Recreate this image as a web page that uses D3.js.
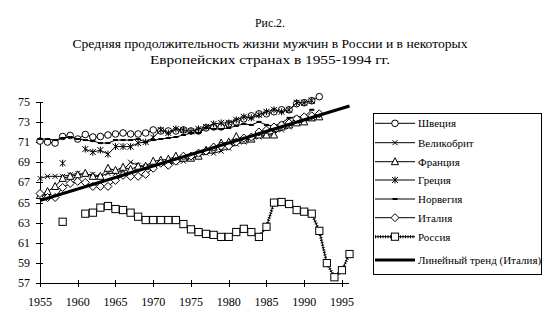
<!DOCTYPE html>
<html>
<head>
<meta charset="utf-8">
<script src="https://cdn.jsdelivr.net/npm/d3@7/dist/d3.min.js"></script>
<style>
  html, body { margin: 0; padding: 0; background: #fff; }
  svg { display: block; }
  text { font-family: "Liberation Serif", "DejaVu Serif", serif; fill: #000; }
</style>
</head>
<body>
<svg id="chart" width="557" height="329"></svg>
<script>
// Male life expectancy, years 1955..1996 (null = no data)
const firstYear = 1955;
const xTicks = [1955, 1960, 1965, 1970, 1975, 1980, 1985, 1990, 1995];
const yTicks = [57, 59, 61, 63, 65, 67, 69, 71, 73, 75];

const sweden = [71.1, 71.0, 70.9, 71.55, 71.65, 71.3, 71.75, 71.5, 71.55, 71.7,
  71.8, 71.9, 71.8, 71.8, 71.9, 72.2, 72.1, 72.1, 72.1, 72.2,
  72.1, 72.1, 72.4, 72.5, 72.5, 72.8, 73.0, 73.3, 73.6, 73.8,
  73.8, 74.0, 74.2, 74.2, 74.8, 74.9, 75.1, 75.5];
const britain = [67.4, 67.6, 67.6, 67.6, 67.75, 67.9, 67.75, 67.8, 67.6, 67.9,
  67.9, 68.2, 69.0, 68.7, 68.6, 68.7, 68.9, 68.8, 69.0, 69.1,
  69.4, 69.6, 69.9, 69.9, 70.1, 70.4, 70.8, 71.0, 71.2, 71.5,
  71.7, 71.9, 72.2, 72.5, 72.9, 73.0, 73.3, 73.7];
const france = [65.7, 66.1, 66.6, 67.4, 67.6, 67.75, 67.9, 67.6, 67.6, 68.4,
  68.2, 68.5, 68.3, 68.6, 68.6, 69.1, 69.2, 69.3, 69.6, 69.4,
  69.4, 69.6, 70.2, 70.5, 70.9, 71.0, 71.55, 71.2, 71.3, 71.7,
  71.7, 71.7, 72.5, 72.7, 72.9, 73.0, 73.4, 73.5];
const greece = [null, null, null, 68.9, null, null, 70.3, 70.0, 70.2, 69.8,
  70.55, 70.55, 70.55, 70.9, 71.0, 71.45, 72.2, 71.9, 72.3, 72.2,
  72.05, 72.3, 72.5, 72.8, 72.9, 72.9, 73.2, 73.5, 73.4, 73.7,
  74.0, 74.2, 74.0, 74.2, 74.9, 74.9, 75.1];
const norway = [71.3, 71.3, 71.2, 71.4, 71.5, 71.3, 71.2, 71.1, 70.9, 70.9,
  71.2, 71.2, 71.2, 71.3, 71.0, 71.2, 71.3, 71.4, 71.5, 71.7,
  71.9, 71.9, 72.4, 72.3, 72.3, 72.4, 72.6, 72.8, 72.7, 73.0,
  72.7, 72.6, 72.9, 73.4, 73.5, 73.5, 74.2];
const italy = [65.9, 65.5, 65.5, 66.5, 66.9, 67.1, 67.0, 66.6, 66.6, 66.6,
  67.2, 67.7, 67.6, 67.6, 67.8, 68.4, 68.9, 68.7, 69.1, 69.6,
  69.6, 69.9, 70.1, 70.5, 70.6, 70.6, 71.0, 71.4, 71.5, 72.0,
  72.2, 72.5, 72.7, 72.9, 73.3, 73.5, 73.6, 73.8];
const russia = [null, null, null, 63.1, null, null, 63.9, 64.0, 64.5, 64.66,
  64.36, 64.26, 64.0, 63.6, 63.27, 63.27, 63.27, 63.27, 63.27, 62.87,
  62.35, 62.08, 61.9, 61.8, 61.6, 61.6, 62.08, 62.4, 62.08, 61.6,
  62.6, 65.0, 65.06, 64.86, 64.26, 64.1, 63.9, 62.2, 59.0, 57.6,
  58.3, 59.9];

const titleLines = [
  "Рис.2.",
  "Средняя продолжительность жизни мужчин в России и в некоторых",
  "Европейских странах в 1955-1994 гг."
];
const legendLabels = ["Швеция", "Великобрит", "Франция", "Греция", "Норвегия",
  "Италия", "Россия", "Линейный тренд (Италия)"];

const svg = d3.select("#chart");

const x = d3.scaleLinear().domain([1955, 1996]).range([40, 349.5]);
const y = d3.scaleLinear().domain([57, 75]).range([283.3, 101.7]);

const toPoints = arr => arr.map((v, i) => ({ year: firstYear + i, v }));

// Marker shapes
const markers = {
  circle: g => g.append("circle").attr("r", 3.3).attr("fill", "#fff").attr("stroke", "#000"),
  cross: g => g.append("path").attr("d", "M-2.5,-2.5L2.5,2.5M-2.5,2.5L2.5,-2.5").attr("stroke", "#000").attr("fill", "none"),
  triangle: g => g.append("path").attr("d", "M0,-4L3.6,3L-3.6,3Z").attr("fill", "#fff").attr("stroke", "#000"),
  star: g => g.append("path").attr("d", "M-3,-3L3,3M-3,3L3,-3M0,-3.5L0,3.5").attr("stroke", "#000").attr("fill", "none"),
  dash: g => g.append("rect").attr("x", -2.5).attr("y", -1).attr("width", 5).attr("height", 2).attr("fill", "#000"),
  diamond: g => g.append("path").attr("d", "M0,-4L4,0L0,4L-4,0Z").attr("fill", "#fff").attr("stroke", "#000"),
  square: g => g.append("rect").attr("x", -3.6).attr("y", -3.6).attr("width", 7.2).attr("height", 7.2).attr("fill", "#fff").attr("stroke", "#000")
};

const series = [
  { data: sweden, marker: "circle", line: "thin" },
  { data: britain, marker: "cross", line: "thin" },
  { data: france, marker: "triangle", line: "thin" },
  { data: greece, marker: "star", line: "thin" },
  { data: norway, marker: "dash", line: "thin" },
  { data: italy, marker: "diamond", line: "thin" },
  { data: russia, marker: "square", line: "hatched" }
];

// Linear trend of Italy, least squares over its years
const it = toPoints(italy);
const mx = d3.mean(it, d => d.year), my = d3.mean(it, d => d.v);
const slope = d3.sum(it, d => (d.year - mx) * (d.v - my)) / d3.sum(it, d => (d.year - mx) ** 2);
const trendAt = yr => my + slope * (yr - mx);

// Axes
const axisG = svg.append("g").attr("shape-rendering", "crispEdges");
axisG.append("line").attr("x1", x(1955)).attr("x2", x(1955)).attr("y1", y(75)).attr("y2", y(57)).attr("stroke", "#000");
axisG.append("line").attr("x1", x(1955)).attr("x2", x(1996) - 1).attr("y1", y(57)).attr("y2", y(57)).attr("stroke", "#000");
yTicks.forEach(t => {
  axisG.append("line").attr("x1", x(1955) - 4).attr("x2", x(1955) + 3).attr("y1", Math.round(y(t))).attr("y2", Math.round(y(t))).attr("stroke", "#000");
  svg.append("text").attr("x", 30).attr("y", y(t) + 4).attr("text-anchor", "end").attr("font-size", 12).text(t);
});
xTicks.forEach(t => {
  axisG.append("line").attr("x1", Math.round(x(t))).attr("x2", Math.round(x(t))).attr("y1", y(57) - 3).attr("y2", y(57) + 4).attr("stroke", "#000");
  svg.append("text").attr("x", x(t)).attr("y", 306).attr("text-anchor", "middle").attr("font-size", 12).text(t);
});

const line = d3.line().defined(d => d.v != null).x(d => x(d.year)).y(d => y(d.v));

series.forEach(s => {
  const pts = toPoints(s.data);
  const g = svg.append("g");
  if (s.line === "hatched") {
    g.append("path").attr("d", line(pts)).attr("fill", "none").attr("stroke", "#000").attr("stroke-width", 1);
    g.append("path").attr("d", line(pts)).attr("fill", "none").attr("stroke", "#000").attr("stroke-width", 3).attr("stroke-dasharray", "1,1.5");
  } else {
    g.append("path").attr("d", line(pts)).attr("fill", "none").attr("stroke", "#000").attr("stroke-width", 1);
  }
  pts.filter(d => d.v != null).forEach(d => {
    const mg = g.append("g").attr("transform", `translate(${x(d.year)},${y(d.v)})`);
    markers[s.marker](mg);
  });
  if (s.marker === "diamond") {
    // trend line drawn right after Italy
  }
});

// Trend line over the full axis span
svg.append("line")
  .attr("x1", x(1955)).attr("y1", y(trendAt(1955)))
  .attr("x2", x(1996)).attr("y2", y(trendAt(1996)))
  .attr("stroke", "#000").attr("stroke-width", 3);

// Redraw Russia on top of the trend? Russia does not cross it, so nothing needed.

// Title
const titleY = [27, 48, 64];
const titleW = [30, 395, 240];
titleLines.forEach((t, i) => {
  svg.append("text").attr("x", 270).attr("y", titleY[i]).attr("text-anchor", "middle")
    .attr("font-size", 13).attr("textLength", titleW[i]).attr("lengthAdjust", "spacingAndGlyphs").text(t);
});

// Legend
const lg = svg.append("g");
lg.append("rect").attr("x", 373.5).attr("y", 113.5).attr("width", 168).attr("height", 161)
  .attr("fill", "#fff").attr("stroke", "#000").attr("shape-rendering", "crispEdges");
const legendY = [123.3, 142.7, 161.7, 180, 199, 217.7, 236.7, 260];
legendLabels.forEach((lab, i) => {
  const cy = legendY[i];
  const row = lg.append("g");
  if (i === 7) {
    row.append("line").attr("x1", 375).attr("x2", 415).attr("y1", cy).attr("y2", cy).attr("stroke", "#000").attr("stroke-width", 3);
  } else if (i === 6) {
    row.append("line").attr("x1", 375).attr("x2", 415).attr("y1", cy).attr("y2", cy).attr("stroke", "#000").attr("stroke-width", 1);
    row.append("line").attr("x1", 375).attr("x2", 415).attr("y1", cy).attr("y2", cy).attr("stroke", "#000").attr("stroke-width", 3).attr("stroke-dasharray", "1,1.5");
  } else {
    row.append("line").attr("x1", 375).attr("x2", 415).attr("y1", cy).attr("y2", cy).attr("stroke", "#000").attr("stroke-width", 1);
  }
  if (i < 7) {
    const mg = row.append("g").attr("transform", `translate(395,${cy})`);
    markers[series[i].marker](mg);
  }
  row.append("text").attr("x", 418).attr("y", cy + 4).attr("font-size", 11).text(lab);
});
</script>
</body>
</html>
